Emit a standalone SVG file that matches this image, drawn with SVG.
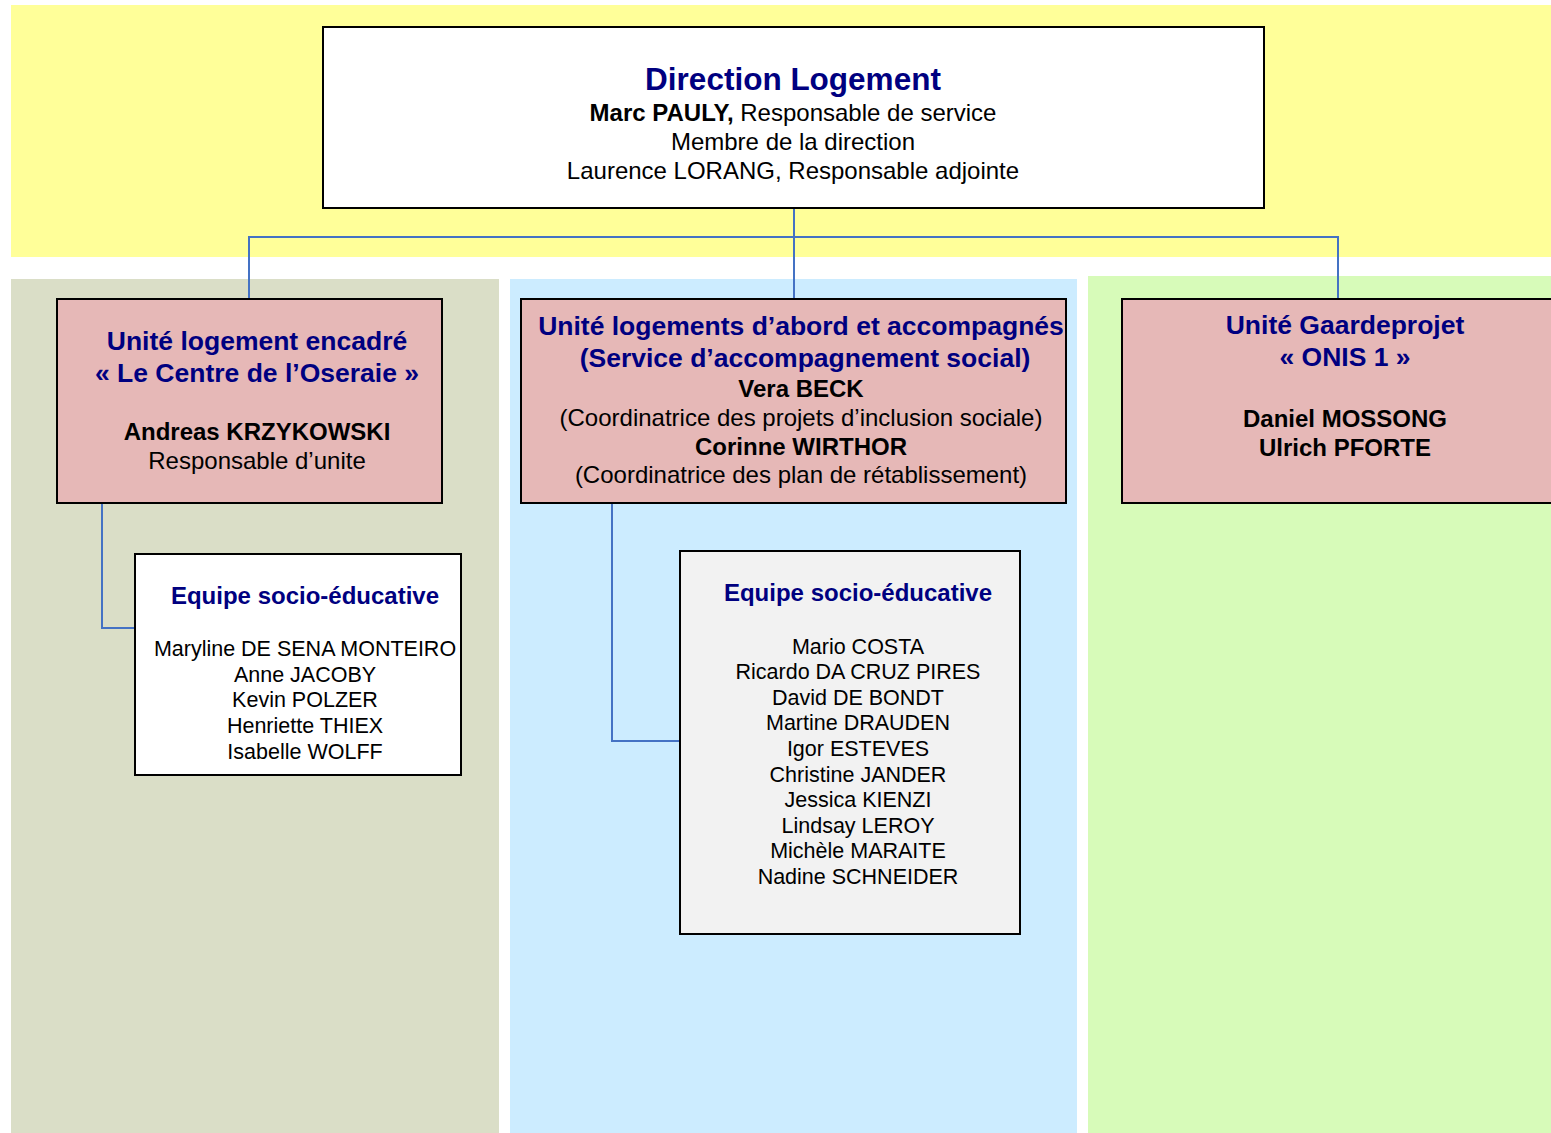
<svg xmlns="http://www.w3.org/2000/svg" width="1551" height="1133" viewBox="0 0 1551 1133">
<style>
.box{stroke:#000;stroke-width:2}
.unit{fill:#E6B8B7}
.t{font-family:"Liberation Sans",Arial,sans-serif;text-anchor:middle;fill:#000}
.h{font-weight:bold;fill:#000080;font-size:26.5px}
.n{font-size:24px}
.b{font-weight:bold}
.m{font-size:21.5px}
.conn{fill:none;stroke:#4472C4;stroke-width:2}
</style>
<rect width="1551" height="1133" fill="#fff"/>
<g id="bands">
<rect x="11" y="5" width="1540" height="252" fill="#FFFF99"/>
<rect x="11" y="279" width="488" height="854" fill="#DADEC7"/>
<rect x="510" y="279" width="567" height="854" fill="#CCECFF"/>
<rect x="1088" y="276" width="463" height="857" fill="#D7FBB9"/>
</g>
<g id="connectors">
<path class="conn" d="M794 208V298M249 298V237H1338V298"/>
<path class="conn" d="M102 503V628H135"/>
<path class="conn" d="M612 503V741H680"/>
</g>
<g id="direction">
<rect class="box" x="323" y="27" width="941" height="181" fill="#fff"/>
<text class="t h" x="793" y="90" style="font-size:31.5px">Direction Logement</text>
<text class="t n" x="793" y="121"><tspan class="b">Marc PAULY,</tspan> Responsable de service</text>
<text class="t n" x="793" y="150">Membre de la direction</text>
<text class="t n" x="793" y="179">Laurence LORANG, Responsable adjointe</text>
</g>
<g id="unit-oseraie">
<rect class="box unit" x="57" y="299" width="385" height="204"/>
<text class="t h" x="257" y="350">Unité logement encadré</text>
<text class="t h" x="257" y="382">« Le Centre de l’Oseraie »</text>
<text class="t n b" x="257" y="440">Andreas KRZYKOWSKI</text>
<text class="t n" x="257" y="469">Responsable d’unite</text>
</g>
<g id="unit-abord">
<rect class="box unit" x="521" y="299" width="545" height="204"/>
<text class="t h" x="801" y="335">Unité logements d’abord et accompagnés</text>
<text class="t h" x="805" y="367">(Service d’accompagnement social)</text>
<text class="t n b" x="801" y="397">Vera BECK</text>
<text class="t n" x="801" y="426">(Coordinatrice des projets d’inclusion sociale)</text>
<text class="t n b" x="801" y="455">Corinne WIRTHOR</text>
<text class="t n" x="801" y="483">(Coordinatrice des plan de rétablissement)</text>
</g>
<g id="unit-gaarde">
<rect class="box unit" x="1122" y="299" width="440" height="204"/>
<text class="t h" x="1345" y="334">Unité Gaardeprojet</text>
<text class="t h" x="1345" y="366">« ONIS 1 »</text>
<text class="t n b" x="1345" y="427">Daniel MOSSONG</text>
<text class="t n b" x="1345" y="456">Ulrich PFORTE</text>
</g>
<g id="equipe-oseraie">
<rect class="box" x="135" y="554" width="326" height="221" fill="#fff"/>
<text class="t h" x="305" y="604" style="font-size:24px">Equipe socio-éducative</text>
<text class="t m" x="305" y="656">Maryline DE SENA MONTEIRO</text>
<text class="t m" x="305" y="682">Anne JACOBY</text>
<text class="t m" x="305" y="707">Kevin POLZER</text>
<text class="t m" x="305" y="733">Henriette THIEX</text>
<text class="t m" x="305" y="759">Isabelle WOLFF</text>
</g>
<g id="equipe-abord">
<rect class="box" x="680" y="551" width="340" height="383" fill="#F2F2F2"/>
<text class="t h" x="858" y="601" style="font-size:24px">Equipe socio-éducative</text>
<text class="t m" x="858" y="654">Mario COSTA</text>
<text class="t m" x="858" y="679">Ricardo DA CRUZ PIRES</text>
<text class="t m" x="858" y="705">David DE BONDT</text>
<text class="t m" x="858" y="730">Martine DRAUDEN</text>
<text class="t m" x="858" y="756">Igor ESTEVES</text>
<text class="t m" x="858" y="782">Christine JANDER</text>
<text class="t m" x="858" y="807">Jessica KIENZI</text>
<text class="t m" x="858" y="833">Lindsay LEROY</text>
<text class="t m" x="858" y="858">Michèle MARAITE</text>
<text class="t m" x="858" y="884">Nadine SCHNEIDER</text>
</g>
</svg>
